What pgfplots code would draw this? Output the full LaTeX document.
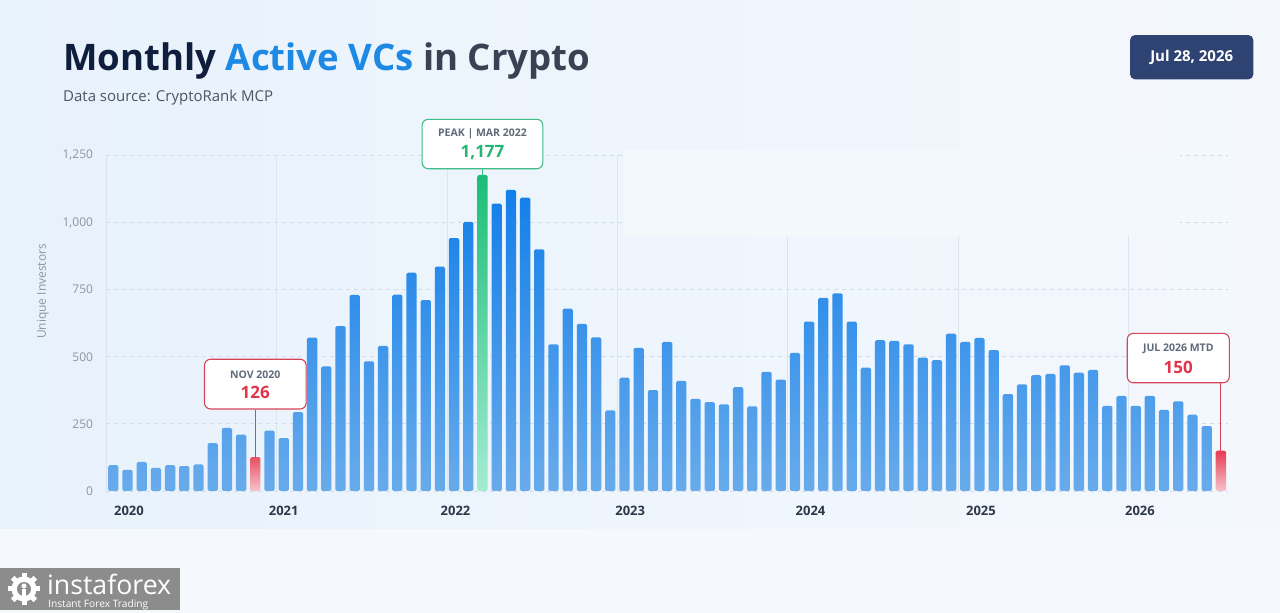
\documentclass[border=0pt]{standalone}
\usepackage{fontspec}
\setmainfont{Open Sans}
\usepackage{graphicx}
\usepackage{pgfplots}
\pgfplotsset{compat=1.18}
\definecolor{bg1}{HTML}{E8F2FC}
\definecolor{bg2}{HTML}{F4F8FD}
\definecolor{bgband}{HTML}{F5F9FD}
\definecolor{bluetop}{HTML}{137FEA}
\definecolor{bluebot}{HTML}{68ABEB}
\definecolor{greentop}{HTML}{1BBE76}
\definecolor{greenbot}{HTML}{A4ECD3}
\definecolor{redtop}{HTML}{E63A4F}
\definecolor{redbot}{HTML}{F6C3CB}
\definecolor{navy}{HTML}{0F1E3C}
\definecolor{titleblue}{HTML}{1E88E5}
\definecolor{titlegray}{HTML}{3A4152}
\definecolor{subgray}{HTML}{4B5563}
\definecolor{tickgray}{HTML}{8A96A3}
\definecolor{xlab}{HTML}{2D3748}
\definecolor{gridc}{HTML}{D3DCE6}
\definecolor{vgridc}{HTML}{DCE4EC}
\definecolor{badge}{HTML}{2F4373}
\definecolor{annred}{HTML}{D8455A}
\definecolor{anngreen}{HTML}{3DBE86}
\definecolor{anntext}{HTML}{5F6B7A}
\definecolor{numred}{HTML}{E0354B}
\definecolor{numgreen}{HTML}{22B573}
\definecolor{logogray}{HTML}{8C8C8C}
\definecolor{patch}{HTML}{F3F8FD}
\begin{document}
\begin{tikzpicture}[x=1pt,y=1pt]
\shade[left color=bg1, right color=bg2] (0,0) rectangle (1280,613);
\fill[bgband] (0,0) rectangle (1280,84);
\begin{axis}[
  at={(106.2pt,122pt)}, anchor=south west,
  scale only axis, width=1121.8pt, height=335.7pt,
  xmin=-0.5, xmax=78.5, ymin=0, ymax=1250,
  enlargelimits=false, clip=false,
  axis line style={draw=none},
  major tick length=0pt,
  ytick={0,250,500,750,1000,1250},
  ymajorgrids,
  major grid style={gridc, dash pattern=on 4pt off 4pt, line width=0.8pt},
  xtick={1.1,12,24.1,36.4,49.1,61.1,72.3},
  xticklabels={2020,2021,2022,2023,2024,2025,2026},
  extra x ticks={-0.5,11.5,23.5,35.5,47.5,59.5,71.5},
  extra x tick labels={},
  extra x tick style={grid=major, major grid style={vgridc, solid, line width=0.8pt}},
  yticklabel style={font=\fontsize{12}{14}\selectfont, text=tickgray, anchor=east, inner sep=0pt, xshift=-13pt},
  xticklabel style={font=\bfseries\fontsize{13}{15}\selectfont, text=xlab, anchor=center, inner sep=0pt, yshift=-20pt},
  /pgf/number format/.cd, 1000 sep={,}, assume math mode=true,
  /pgfplots/.cd,
  ybar, bar width=10.3pt,
]
\addplot[bar shift=0pt, draw=none, top color=bluetop, bottom color=bluebot, rounded corners=1.5pt] coordinates {
(0,96) (1,79) (2,108) (3,86) (4,96) (5,93) (6,99) (7,178) (8,235) (9,210)
(11,225) (12,197) (13,294) (14,571) (15,464) (16,614) (17,730) (18,483) (19,540)
(20,731) (21,813) (22,711) (23,835) (24,942) (25,1002)
(27,1070) (28,1121) (29,1092) (30,900) (31,546) (32,679) (33,622) (34,572) (35,300)
(36,422) (37,533) (38,376) (39,555) (40,410) (41,343) (42,331) (43,323) (44,387)
(45,315) (46,444) (47,415) (48,514) (49,631) (50,719) (51,736) (52,631) (53,459)
(54,562) (55,559) (56,546) (57,497) (58,487) (59,586) (60,555) (61,570) (62,525)
(63,361) (64,397) (65,431) (66,436) (67,468) (68,441) (69,451) (70,317) (71,354)
(72,317) (73,354) (74,302) (75,334) (76,284) (77,242)
};
\addplot[bar shift=0pt, draw=none, top color=greentop, bottom color=greenbot, rounded corners=1.5pt] coordinates {(26,1177)};
\addplot[bar shift=0pt, draw=none, top color=redtop, bottom color=redbot, rounded corners=1.5pt] coordinates {(10,126) (78,150)};
% annotations
\node[draw=annred, line width=1.1pt, fill=white, rounded corners=6pt, minimum width=101.6pt, minimum height=49.7pt, inner sep=0pt] (nov) at (axis cs:10,398) {};
\draw[annred, line width=1.1pt] (nov.south) -- (axis cs:10,126);
\node[font=\bfseries\fontsize{10.5}{12}\selectfont, text=anntext, inner sep=0pt] at ([yshift=9.4pt]nov.center) {NOV 2020};
\node[font=\bfseries\fontsize{17}{20}\selectfont, text=numred, inner sep=0pt] at ([yshift=-8.6pt]nov.center) {126};
\node[draw=anngreen, line width=1.1pt, fill=white, rounded corners=6pt, minimum width=120.6pt, minimum height=49.4pt, inner sep=0pt] (peak) at (axis cs:26,1292) {};
\draw[anngreen, line width=1.1pt] (peak.south) -- (axis cs:26,1177);
\node[font=\bfseries\fontsize{10.5}{12}\selectfont, text=anntext, inner sep=0pt] at ([yshift=10.5pt]peak.center) {PEAK | MAR 2022};
\node[font=\bfseries\fontsize{17}{20}\selectfont, text=numgreen, inner sep=0pt] at ([yshift=-8.8pt]peak.center) {1,177};
\node[draw=annred, line width=1.1pt, fill=white, rounded corners=6pt, minimum width=102pt, minimum height=49.4pt, inner sep=0pt] (jul) at (axis cs:75,495) {};
\draw[annred, line width=1.1pt] (axis cs:78,403) -- (axis cs:78,150);
\node[font=\bfseries\fontsize{10.5}{12}\selectfont, text=anntext, inner sep=0pt] at ([yshift=8.8pt]jul.center) {JUL 2026 MTD};
\node[font=\bfseries\fontsize{17}{20}\selectfont, text=numred, inner sep=0pt] at ([yshift=-9pt]jul.center) {150};
\end{axis}
\fill[patch] (624,377) rectangle (1180,463);
% titles
\node[anchor=base west, inner sep=0pt] at (63,542.3) {\resizebox{527pt}{!}{\bfseries\textcolor{navy}{Monthly} \textcolor{titleblue}{Active VCs} \textcolor{titlegray}{in Crypto}}};
\node[anchor=base west, inner sep=0pt, text=subgray] at (63,511.3) {\resizebox{210pt}{!}{Data source: CryptoRank MCP}};
\node[fill=badge, rounded corners=5pt, minimum width=123.3pt, minimum height=44.3pt, text=white, font=\bfseries\fontsize{15}{18}\selectfont] at (1191.7,555.8) {Jul 28, 2026};
\node[rotate=90, text=tickgray, font=\fontsize{12}{14}\selectfont] at (43,321.5) {Unique Investors};
% watermark
\fill[logogray] (0,3) rectangle (180,45);
\foreach \a in {0,45,...,315} \fill[white, rotate around={\a:(24,24)}] (21.5,24) rectangle (26.5,40);
\fill[white] (24,24) circle (12.5);
\fill[logogray] (24,24) circle (7);
\fill[white] (21.8,12) rectangle (26.2,24);
\fill[white] (24,27) circle (2.6);
\node[anchor=base west, inner sep=0pt, text=white] at (47,18) {\resizebox{124pt}{!}{instaforex}};
\node[anchor=base west, inner sep=0pt, text=white] at (48,5) {\resizebox{100pt}{!}{Instant Forex Trading}};
\end{tikzpicture}
\end{document}
